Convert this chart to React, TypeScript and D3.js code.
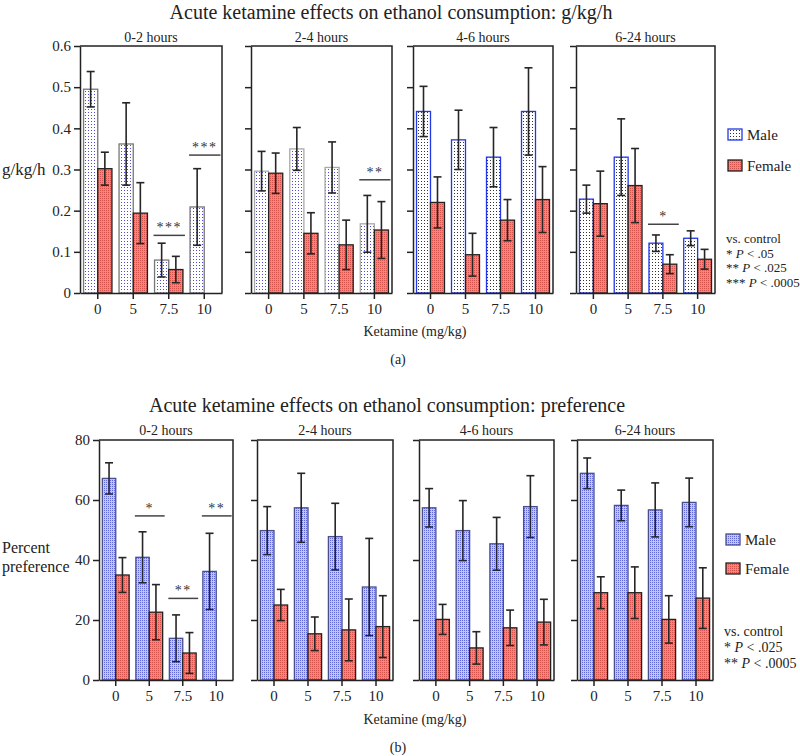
import { useRef, useEffect } from "react";
import * as d3 from "d3";

const FONT = "Liberation Serif, Times New Roman, serif";

const doses = ["0", "5", "7.5", "10"];
const periods = ["0-2 hours", "2-4 hours", "4-6 hours", "6-24 hours"];

// (a) g/kg/h, one row per period, one value per dose
const gkgMaleMean = [
    [0.495, 0.362, 0.08, 0.209],
    [0.296, 0.35, 0.305, 0.168],
    [0.441, 0.372, 0.33, 0.441],
    [0.228, 0.33, 0.121, 0.133],
];
const gkgMaleSem = [
    [0.043, 0.1, 0.041, 0.093],
    [0.048, 0.052, 0.062, 0.069],
    [0.061, 0.072, 0.072, 0.106],
    [0.034, 0.093, 0.02, 0.018],
];
const gkgFemaleMean = [
    [0.302, 0.194, 0.057, null],
    [0.291, 0.145, 0.117, 0.153],
    [0.22, 0.093, 0.177, 0.227],
    [0.217, 0.261, 0.07, 0.082],
];
const gkgFemaleSem = [
    [0.04, 0.074, 0.032, null],
    [0.049, 0.05, 0.06, 0.069],
    [0.062, 0.052, 0.05, 0.08],
    [0.079, 0.09, 0.023, 0.024],
];
const gkgTicks = [0, 0.1, 0.2, 0.3, 0.4, 0.5, 0.6];
const gkgSig = [
    { panel: 0, dose: "7.5", y: 0.14, label: "***" },
    { panel: 0, dose: "10", y: 0.335, label: "***" },
    { panel: 1, dose: "10", y: 0.275, label: "**" },
    { panel: 3, dose: "7.5", y: 0.167, label: "*" },
];
const gkgKey = [
    ["*", ".05"],
    ["**", ".025"],
    ["***", ".0005"],
];

// (b) percent preference
const prefMaleMean = [
    [67.2, 40.9, 13.9, 36.2],
    [49.8, 57.4, 47.8, 31.0],
    [57.4, 49.8, 45.4, 57.8],
    [68.9, 58.2, 56.7, 59.2],
];
const prefMaleSem = [
    [5.2, 8.5, 7.8, 12.7],
    [8.0, 11.5, 11.1, 16.2],
    [6.4, 10.0, 8.8, 10.3],
    [5.1, 5.1, 9.0, 8.1],
];
const prefFemaleMean = [
    [35.0, 22.6, 9.0, null],
    [25.0, 15.4, 16.7, 17.8],
    [20.2, 10.7, 17.4, 19.3],
    [29.1, 29.1, 20.2, 27.3],
];
const prefFemaleSem = [
    [5.8, 9.2, 6.8, null],
    [5.2, 5.6, 10.3, 10.3],
    [5.0, 5.4, 5.9, 7.6],
    [5.3, 8.6, 7.9, 10.1],
];
const prefTicks = [0, 20, 40, 60, 80];
const prefSig = [
    { panel: 0, dose: "5", y: 54.7, label: "*" },
    { panel: 0, dose: "7.5", y: 27.2, label: "**" },
    { panel: 0, dose: "10", y: 54.7, label: "**" },
];
const prefKey = [
    ["*", ".025"],
    ["**", ".0005"],
];

type Val = number | null;

interface SigMark {
    panel: number;
    dose: string;
    y: number;
    label: string;
}

interface YAxisProps {
    scale: d3.ScaleLinear<number, number>;
    x: number;
    ticks: number[];
    labels: boolean;
    fmt: (d: number) => string;
}

function YAxis({ scale, x, ticks, labels, fmt }: YAxisProps) {
    const ref = useRef<SVGGElement>(null);

    useEffect(() => {
        if (!ref.current) return;
        const axis = d3
            .axisLeft(scale)
            .tickValues(ticks)
            .tickSize(6)
            .tickSizeOuter(0)
            .tickPadding(3)
            .tickFormat((d) => (labels ? fmt(d as number) : ""));
        const g = d3.select(ref.current).call(axis);
        g.attr("font-family", FONT);
        g.selectAll("text").attr("font-family", FONT).attr("font-size", 15).attr("fill", "#222");
        g.selectAll("line,path").attr("stroke", "#222").attr("stroke-width", 1.5);
    }, [scale, ticks, labels, fmt]);

    return <g ref={ref} transform={`translate(${x},0)`} />;
}

interface XAxisProps {
    scale: d3.ScaleBand<string>;
    y: number;
}

function XAxis({ scale, y }: XAxisProps) {
    const ref = useRef<SVGGElement>(null);

    useEffect(() => {
        if (!ref.current) return;
        const axis = d3.axisBottom(scale).tickSize(6).tickSizeOuter(0).tickPadding(4);
        const g = d3.select(ref.current).call(axis);
        g.attr("font-family", FONT);
        g.selectAll("text").attr("font-family", FONT).attr("font-size", 15).attr("fill", "#222");
        g.selectAll("line,path").attr("stroke", "#222").attr("stroke-width", 1.5);
    }, [scale]);

    return <g ref={ref} transform={`translate(0,${y})`} />;
}

interface ErrBarProps {
    cx: number;
    mean: number;
    sem: number;
    scaleY: d3.ScaleLinear<number, number>;
}

function ErrBar({ cx, mean, sem, scaleY }: ErrBarProps) {
    const y1 = scaleY(mean + sem);
    const y2 = scaleY(mean - sem);
    const cap = 4;
    return (
        <g stroke="#262626" strokeWidth={1.6}>
            <line x1={cx} x2={cx} y1={y1} y2={y2} />
            <line x1={cx - cap} x2={cx + cap} y1={y1} y2={y1} />
            <line x1={cx - cap} x2={cx + cap} y1={y2} y2={y2} />
        </g>
    );
}

interface BlockProps {
    title: string;
    titleX: number;
    titleY: number;
    panelX: [number, number][];
    scaleY: d3.ScaleLinear<number, number>;
    ticks: number[];
    fmt: (d: number) => string;
    maleMean: Val[][];
    maleSem: Val[][];
    femaleMean: Val[][];
    femaleSem: Val[][];
    malePattern: string[];
    maleStroke: string[];
    femalePattern: string;
    sig: SigMark[];
    ylabel: string[];
    ylabelY: number;
    ylabelFont: number;
    panelTitleY: number;
    legendX: number;
    legendY: number[];
    pvals: string[][];
    keyY: number;
    keyStep: number;
    keyFont: number;
    xlabelY: number;
    tag: string;
    tagY: number;
}

function Block(p: BlockProps) {
    const yBottom = p.scaleY(0);
    const top = p.scaleY(p.ticks[p.ticks.length - 1]);

    return (
        <g style={{ fontFamily: FONT }} fill="#222">
            <text x={p.titleX} y={p.titleY} fontSize={20} textAnchor="middle">
                {p.title}
            </text>
            {p.ylabel.map((line, i) => (
                <text key={line} x={2} y={p.ylabelY + i * 19} fontSize={p.ylabelFont}>
                    {line}
                </text>
            ))}
            {periods.map((period, pi) => {
                const [x0, x1] = p.panelX[pi];
                const band = d3
                    .scaleBand<string>()
                    .domain(doses)
                    .range([x0, x1])
                    .paddingInner(0.2)
                    .paddingOuter(0.1);
                const bw = band.bandwidth() / 2;
                return (
                    <g key={period}>
                        <text x={(x0 + x1) / 2} y={p.panelTitleY} fontSize={14} textAnchor="middle">
                            {period}
                        </text>
                        {doses.map((dose, di) => {
                            const bx = band(dose) || 0;
                            const mm = p.maleMean[pi][di];
                            const ms = p.maleSem[pi][di];
                            const fm = p.femaleMean[pi][di];
                            const fs = p.femaleSem[pi][di];
                            return (
                                <g key={dose}>
                                    {mm !== null && (
                                        <rect
                                            x={bx}
                                            y={p.scaleY(mm)}
                                            width={bw}
                                            height={yBottom - p.scaleY(mm)}
                                            fill={`url(#${p.malePattern[pi]})`}
                                            stroke={p.maleStroke[pi]}
                                            strokeWidth={1.3}
                                        />
                                    )}
                                    {fm !== null && (
                                        <rect
                                            x={bx + bw}
                                            y={p.scaleY(fm)}
                                            width={bw}
                                            height={yBottom - p.scaleY(fm)}
                                            fill={`url(#${p.femalePattern})`}
                                            stroke="#222"
                                            strokeWidth={1.3}
                                        />
                                    )}
                                    {mm !== null && ms !== null && (
                                        <ErrBar cx={bx + bw / 2} mean={mm} sem={ms} scaleY={p.scaleY} />
                                    )}
                                    {fm !== null && fs !== null && (
                                        <ErrBar cx={bx + bw * 1.5} mean={fm} sem={fs} scaleY={p.scaleY} />
                                    )}
                                </g>
                            );
                        })}
                        {p.sig
                            .filter((s) => s.panel === pi)
                            .map((s) => {
                                const sx = (band(s.dose) || 0) - 1;
                                const ex = (band(s.dose) || 0) + band.bandwidth() + 2;
                                const sy = p.scaleY(s.y);
                                return (
                                    <g key={s.dose}>
                                        <line x1={sx} x2={ex} y1={sy} y2={sy} stroke="#444" strokeWidth={1.5} />
                                        <text
                                            x={(sx + ex) / 2}
                                            y={sy - 3}
                                            fontSize={14}
                                            textAnchor="middle"
                                            fill="#333"
                                            letterSpacing={1.5}
                                        >
                                            {s.label}
                                        </text>
                                    </g>
                                );
                            })}
                        <YAxis scale={p.scaleY} x={x0} ticks={p.ticks} labels={pi === 0} fmt={p.fmt} />
                        <XAxis scale={band} y={yBottom} />
                        <path
                            d={`M${x0},${top}H${x1}V${yBottom}`}
                            fill="none"
                            stroke="#222"
                            strokeWidth={1.5}
                        />
                    </g>
                );
            })}
            <rect
                x={p.legendX}
                y={p.legendY[0]}
                width={14}
                height={11}
                fill={`url(#${p.malePattern[3]})`}
                stroke={p.maleStroke[3]}
                strokeWidth={1.3}
            />
            <text x={p.legendX + 19} y={p.legendY[0] + 11} fontSize={15}>
                Male
            </text>
            <rect
                x={p.legendX}
                y={p.legendY[1]}
                width={14}
                height={11}
                fill={`url(#${p.femalePattern})`}
                stroke="#222"
                strokeWidth={1.3}
            />
            <text x={p.legendX + 19} y={p.legendY[1] + 11} fontSize={15}>
                Female
            </text>
            <text x={p.legendX - 2} y={p.keyY} fontSize={p.keyFont}>
                vs. control
            </text>
            {p.pvals.map(([stars, pv], i) => (
                <text key={stars} x={p.legendX - 2} y={p.keyY + (i + 1) * p.keyStep} fontSize={p.keyFont}>
                    <tspan>{stars} </tspan>
                    <tspan fontStyle="italic">P</tspan>
                    <tspan> &lt; {pv}</tspan>
                </text>
            ))}
            <text x={415} y={p.xlabelY} fontSize={14} textAnchor="middle">
                Ketamine (mg/kg)
            </text>
            <text x={398} y={p.tagY} fontSize={14} textAnchor="middle">
                {p.tag}
            </text>
        </g>
    );
}

export default function App() {
    const gkgY = d3.scaleLinear().domain([0, 0.6]).range([293, 46]);
    const prefY = d3.scaleLinear().domain([0, 80]).range([680, 440]);
    const gkgFmt = (d: number) => (d === 0 ? "0" : d3.format(".1f")(d));
    const prefFmt = (d: number) => String(d);

    return (
        <svg width={800} height={756} style={{ position: "absolute", left: 0, top: 0, background: "#fff" }}>
            <defs>
                <pattern id="mBlue" width={3} height={3} patternUnits="userSpaceOnUse">
                    <rect width={3} height={3} fill="#ffffff" />
                    <rect x={1} y={1} width={1} height={1} fill="#4a4ad6" />
                </pattern>
                <pattern id="mDark" width={3} height={3} patternUnits="userSpaceOnUse">
                    <rect width={3} height={3} fill="#ffffff" />
                    <rect x={1} y={1} width={1} height={1} fill="#333333" />
                </pattern>
                <pattern id="fRed" width={2} height={2} patternUnits="userSpaceOnUse">
                    <rect width={2} height={2} fill="#f2857e" />
                    <rect x={0} y={0} width={1} height={1} fill="#d4524c" />
                </pattern>
                <pattern id="mPref" width={2} height={2} patternUnits="userSpaceOnUse">
                    <rect width={2} height={2} fill="#c2c6f6" />
                    <rect x={0} y={0} width={1} height={1} fill="#6068da" />
                </pattern>
            </defs>
            <Block
                title="Acute ketamine effects on ethanol consumption: g/kg/h"
                titleX={391}
                titleY={19}
                panelX={[
                    [80, 222],
                    [251, 392],
                    [413, 553],
                    [576, 715],
                ]}
                scaleY={gkgY}
                ticks={gkgTicks}
                fmt={gkgFmt}
                maleMean={gkgMaleMean}
                maleSem={gkgMaleSem}
                femaleMean={gkgFemaleMean}
                femaleSem={gkgFemaleSem}
                malePattern={["mBlue", "mBlue", "mDark", "mDark"]}
                maleStroke={["#777", "#aaa", "#2238e6", "#2238e6"]}
                femalePattern="fRed"
                sig={gkgSig}
                ylabel={["g/kg/h"]}
                ylabelY={175}
                ylabelFont={17}
                panelTitleY={42}
                legendX={728}
                legendY={[129, 160]}
                pvals={gkgKey}
                keyY={243}
                keyStep={14.7}
                keyFont={13}
                xlabelY={336}
                tag="(a)"
                tagY={364}
            />
            <Block
                title="Acute ketamine effects on ethanol consumption: preference"
                titleX={387}
                titleY={412}
                panelX={[
                    [99, 233],
                    [257, 393],
                    [419, 554],
                    [577, 713],
                ]}
                scaleY={prefY}
                ticks={prefTicks}
                fmt={prefFmt}
                maleMean={prefMaleMean}
                maleSem={prefMaleSem}
                femaleMean={prefFemaleMean}
                femaleSem={prefFemaleSem}
                malePattern={["mPref", "mPref", "mPref", "mPref"]}
                maleStroke={["#4a4f8a", "#4a4f8a", "#4a4f8a", "#4a4f8a"]}
                femalePattern="fRed"
                sig={prefSig}
                ylabel={["Percent", "preference"]}
                ylabelY={553}
                ylabelFont={16}
                panelTitleY={435}
                legendX={726}
                legendY={[534, 563]}
                pvals={prefKey}
                keyY={636}
                keyStep={16}
                keyFont={14}
                xlabelY={724}
                tag="(b)"
                tagY={752}
            />
        </svg>
    );
}
